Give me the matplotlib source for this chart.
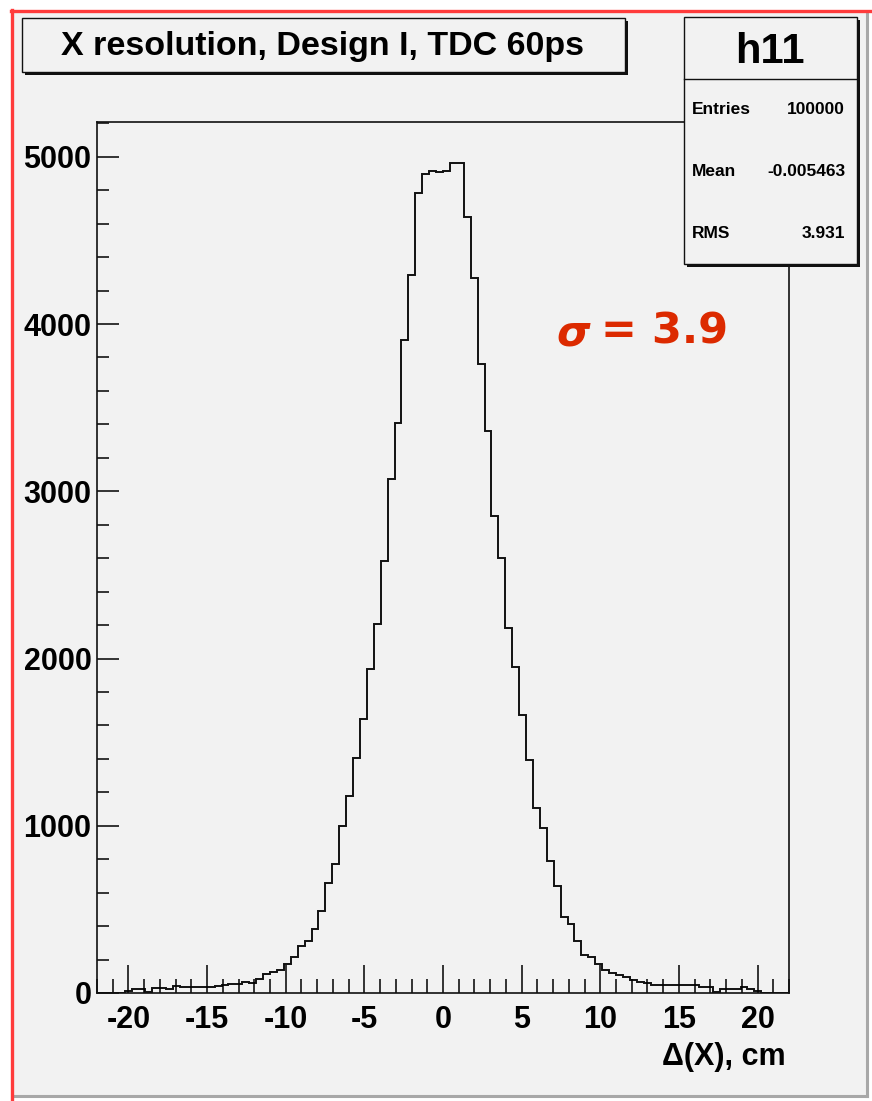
import numpy as np
import matplotlib
matplotlib.use("Agg")
import matplotlib.pyplot as plt
from matplotlib.patches import Rectangle
from matplotlib.lines import Line2D
from matplotlib.ticker import MultipleLocator

# ---------------- data ----------------
x_min, x_max, n_bins = -22.0, 22.0, 100
counts = [
    0, 0, 0, 0, 10, 22, 22, 8, 32, 32,
    22, 44, 36, 36, 36, 36, 36, 42, 48, 56,
    56, 64, 58, 83, 114, 125, 137, 176, 217, 279,
    312, 381, 493, 657, 771, 996, 1179, 1404, 1639, 1940,
    2204, 2583, 3075, 3411, 3905, 4294, 4785, 4898, 4918, 4909,
    4918, 4960, 4960, 4642, 4273, 3762, 3359, 2850, 2603, 2182,
    1948, 1661, 1394, 1107, 986, 790, 637, 453, 410, 311,
    226, 217, 176, 139, 118, 106, 94, 78, 66, 58,
    46, 46, 46, 46, 46, 46, 46, 38, 36, 8,
    24, 24, 24, 34, 22, 12, 0, 0, 0, 0,
]
x_ticks = [-20, -15, -10, -5, 0, 5, 10, 15, 20]
y_ticks = [0, 1000, 2000, 3000, 4000, 5000]
y_max = 5208

title = "X resolution, Design I, TDC 60ps"
hist_name = "h11"
stat_labels = ["Entries", "Mean", "RMS"]
stat_values = ["100000", "-0.005463", "3.931"]
x_label = "\u0394(X), cm"
sigma_value = "= 3.9"

# ---------------- layout ----------------
W, H = 872, 1101
BG = "#f2f2f2"
RED = "#dc2a00"
plt.rcParams['font.family'] = ['Liberation Sans', 'DejaVu Sans']

fig = plt.figure(figsize=(W / 100, H / 100), dpi=100, facecolor="white")

def fx(x):
    return x / W

def fy(y):
    return 1 - y / H

# canvas background
fig.add_artist(Rectangle((fx(13), fy(1095)), (866 - 13) / W, (1095 - 12) / H,
                         transform=fig.transFigure, fc=BG, ec="none", zorder=0))
# shadow lines right / bottom
fig.add_artist(Line2D([fx(867), fx(867)], [fy(14), fy(1096)], transform=fig.transFigure,
                      color="#a8a8a8", lw=2.2, zorder=1))
fig.add_artist(Line2D([fx(14), fx(867)], [fy(1096), fy(1096)], transform=fig.transFigure,
                      color="#a8a8a8", lw=2.2, zorder=1))
# red border left / top
fig.add_artist(Line2D([fx(12), fx(12)], [fy(10), fy(1101)], transform=fig.transFigure,
                      color="#ff3b3b", lw=2.4, zorder=2))
fig.add_artist(Line2D([fx(11), fx(872)], [fy(11), fy(11)], transform=fig.transFigure,
                      color="#ff3b3b", lw=2.4, zorder=2))

# axes
L, R, T, B = 97, 789, 122, 993
ax = fig.add_axes([fx(L), fy(B), (R - L) / W, (B - T) / H])
ax.set_facecolor(BG)
edges = np.linspace(x_min, x_max, n_bins + 1)
ax.stairs(counts, edges, color="#111111", lw=1.4, baseline=None)
ax.set_xlim(x_min, x_max)
ax.set_ylim(0, y_max)
ax.set_xticks(x_ticks)
ax.set_yticks(y_ticks)
ax.set_xticklabels([str(v) for v in x_ticks])
ax.set_yticklabels([str(v) for v in y_ticks])
ax.xaxis.set_minor_locator(MultipleLocator(1))
ax.yaxis.set_minor_locator(MultipleLocator(200))
for sp in ax.spines.values():
    sp.set_linewidth(1.2)
    sp.set_color("#111111")
ax.tick_params(axis="x", which="major", direction="in", length=20, width=1.1,
               labelsize=22, pad=9, top=False)
ax.tick_params(axis="x", which="minor", direction="in", length=10, width=1.1, top=False)
ax.tick_params(axis="y", which="major", direction="in", length=16, width=1.1,
               labelsize=22, pad=4, right=False)
ax.tick_params(axis="y", which="minor", direction="in", length=8.5, width=1.1, right=False)
for lab in ax.get_xticklabels() + ax.get_yticklabels():
    lab.set_fontweight("bold")

fig.text(fx(786), fy(1057), x_label, ha="right", va="center", fontsize=22,
         fontweight="bold")

# title box
fig.add_artist(Rectangle((fx(25), fy(75)), (625 - 22) / W, (72 - 18) / H,
                         transform=fig.transFigure, fc="#111111", ec="none", zorder=5))
fig.add_artist(Rectangle((fx(22), fy(72)), (625 - 22) / W, (72 - 18) / H,
                         transform=fig.transFigure, fc=BG, ec="#111111", lw=1.0, zorder=6))
fig.text(fx(322), fy(46), title, ha="center", va="center", fontsize=24.5,
         fontweight="bold", zorder=7)

# stats box
fig.add_artist(Rectangle((fx(687), fy(267)), (857 - 684) / W, (264 - 17) / H,
                         transform=fig.transFigure, fc="#111111", ec="none", zorder=5))
fig.add_artist(Rectangle((fx(684), fy(264)), (857 - 684) / W, (264 - 17) / H,
                         transform=fig.transFigure, fc=BG, ec="#111111", lw=1.0, zorder=6))
fig.add_artist(Line2D([fx(684), fx(857)], [fy(79), fy(79)], transform=fig.transFigure,
                      color="#111111", lw=1.0, zorder=7))
fig.text(fx(770), fy(52), hist_name, ha="center", va="center", fontsize=30,
         fontweight="bold", zorder=7)
for i, (lab, val) in enumerate(zip(stat_labels, stat_values)):
    yy = [110, 171, 233][i]
    fig.text(fx(692), fy(yy), lab, ha="left", va="center", fontsize=12.5,
             fontweight="bold", zorder=7)
    fig.text(fx(845), fy(yy), val, ha="right", va="center", fontsize=12.5,
             fontweight="bold", zorder=7)

# sigma annotation
fig.text(fx(556), fy(333), "\u03c3", ha="left", va="center", fontsize=31,
         fontweight="bold", fontstyle="italic", color=RED, family="DejaVu Sans")
fig.text(fx(601), fy(332), sigma_value, ha="left", va="center", fontsize=31,
         fontweight="bold", color=RED, family="DejaVu Sans")

fig.savefig("out.png", dpi=100, facecolor="white")
